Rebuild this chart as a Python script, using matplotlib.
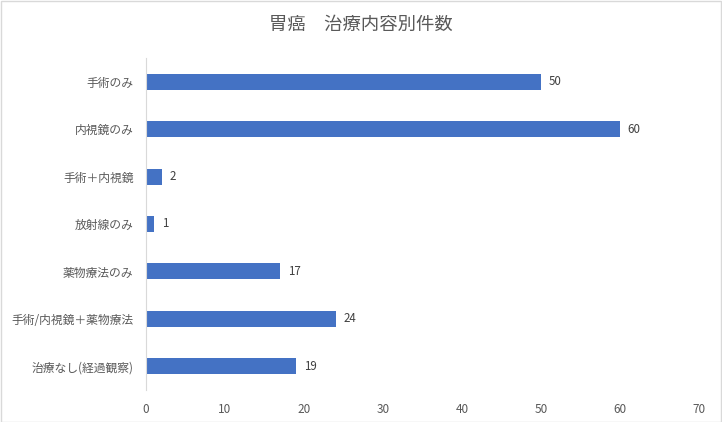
import matplotlib.pyplot as plt
from matplotlib.patches import Rectangle

plt.rcParams['font.family'] = ['Noto Sans CJK JP', 'DejaVu Sans']

categories = ['手術のみ', '内視鏡のみ', '手術＋内視鏡', '放射線のみ', '薬物療法のみ',
              '手術/内視鏡＋薬物療法', '治療なし(経過観察)']
counts = [50, 60, 2, 1, 17, 24, 19]
xticks = [0, 10, 20, 30, 40, 50, 60, 70]

fig = plt.figure(figsize=(7.22, 4.22), dpi=100)
ax = fig.add_axes([0.2022, 0.0758, 0.7658, 0.7868])

ypos = list(range(len(categories)))
ax.barh(ypos, counts, height=0.34, color='#4472C4')
for y, v in zip(ypos, counts):
    ax.text(v + 1, y, str(v), va='center', ha='left', fontsize=8.3, color='#404040')

ax.set_xlim(0, 70)
ax.set_ylim(len(categories) - 0.5, -0.5)
ax.set_yticks(ypos)
ax.set_yticklabels(categories)
ax.set_xticks(xticks)
ax.tick_params(axis='both', length=0, labelsize=8.5, colors='#595959')
ax.tick_params(axis='y', pad=9)
ax.tick_params(axis='x', pad=9)
for s in ['top', 'right', 'bottom']:
    ax.spines[s].set_visible(False)
ax.spines['left'].set_color('#D9D9D9')

fig.text(0.5, 0.94, '胃癌　治療内容別件数', ha='center', va='center', fontsize=13.2, color='#595959')
fig.patches.append(Rectangle((0.001, 0.001), 0.997, 0.997, transform=fig.transFigure,
                             fill=False, edgecolor='#D9D9D9', linewidth=1))

fig.savefig('out.png', dpi=100)
